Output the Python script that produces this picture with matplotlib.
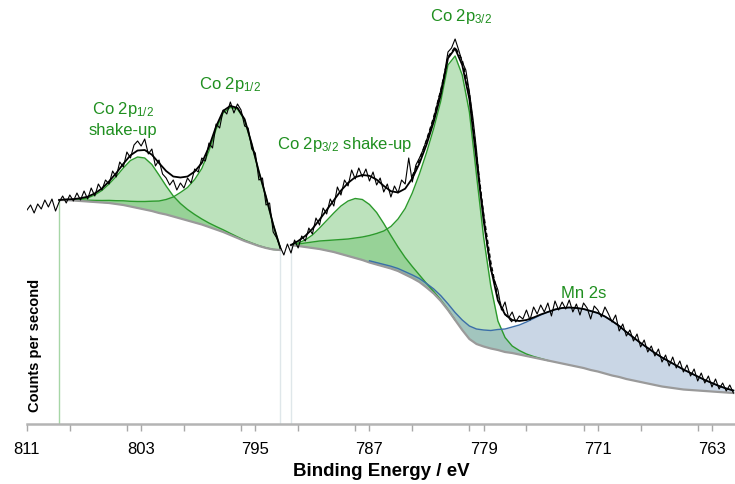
import numpy as np
import matplotlib
matplotlib.use("Agg")
import matplotlib.pyplot as plt
from matplotlib.ticker import MultipleLocator

plt.rcParams['font.family'] = ['Liberation Sans', 'DejaVu Sans']
plt.rcParams['mathtext.default'] = 'regular'

# energy grids (eV): raw spectrum, Co 2p1/2 region, Co 2p3/2 + Mn 2s region
energy_raw = np.linspace(811, 761.5, 199)
energy_r1 = np.linspace(808.75, 793.25, 32)
energy_r2 = np.linspace(792.5, 761.5, 63)

# measured counts (a.u.)
raw_cps = [
    214, 219, 211, 220, 215, 224, 217, 225, 213,
    222, 228, 221, 229, 223, 231, 224, 233, 225, 236, 228, 240, 234, 244, 240,
    253, 247, 262, 257, 272, 266, 279, 283, 278, 285, 270, 275, 258, 264, 250,
    246, 239, 244, 234, 241, 236, 246, 241, 255, 252, 266, 263, 281, 276, 300,
    296, 314, 310, 322, 311, 320, 314, 298, 296, 275, 271, 244, 246, 219, 221,
    192, 186, 177,
    169, 180,
    171, 184, 176, 188, 183, 196, 190, 206, 199, 216, 210, 225, 218, 237, 229,
    244, 238, 254, 245, 256, 247, 255, 243, 252, 239, 246, 232, 240, 227, 238,
    231, 244, 240, 266, 242, 259, 266, 274, 284, 294, 306, 320, 334, 350, 372,
    376, 385, 374, 362, 354, 332, 306, 274, 236, 210, 178, 154, 144, 134, 114,
    122, 106, 112, 102, 108, 105, 114, 104, 117, 110, 119, 112, 121, 108, 123,
    114, 122, 115, 124, 112, 120, 109, 121, 116, 105, 118, 114, 107, 117, 110,
    102, 109, 93, 100, 88, 94, 83, 90, 77, 84, 72, 78, 68, 75, 62, 69, 58, 67,
    56, 63, 52, 59, 48, 55, 43, 51, 41, 48, 37, 45, 35, 41, 33, 39, 31,
]

# Shirley backgrounds
bg1 = [224, 224, 223.5, 223, 222.5, 222, 221.5, 221, 220, 219, 217.5, 216,
       214.5, 213, 211, 209.5, 207.5, 205.5, 203.5, 201.5, 199.5, 197, 194.5,
       192, 189, 186, 183, 180.5, 178, 176, 174.5, 174]
bg2 = [179, 178, 177, 176, 175, 173.5, 172, 170, 168, 166, 164, 161.5, 159.5,
       157.5, 155.5, 153, 149.5, 146, 142, 136.5, 130.5, 123, 114, 104, 94, 85,
       80, 77.5, 75.5, 74, 72, 71, 69.5, 68, 66.5, 65, 63.5, 62, 60.5, 59, 57.5,
       56, 54, 52.5, 50.5, 48.5, 47, 45, 43.5, 42, 40.5, 39, 37.5, 36.5, 35.5,
       34.5, 34, 33.5, 33, 32.5, 32, 31.5, 31]

# fitted components (height above background)
co2p12_sat = [0, 0.3, 0.8, 1.8, 3.5, 7, 12, 19, 27.5, 37, 46, 51, 51.5, 46.5,
              38, 28.5, 20.5, 15, 11, 8, 5.5, 4, 3, 2.2, 1.6, 1.1, 0.8, 0.5,
              0.3, 0.2, 0.1, 0]
co2p12 = [0, 0.3, 0.6, 1, 1.3, 1.6, 2, 2.6, 3.3, 4.2, 5.2, 6.5, 8, 9.8, 12, 15,
          19.5, 26, 33, 43, 56, 76, 100, 119, 127.5, 129, 121, 99, 74, 51, 25, 2]
co2p32_sat = [0, 3, 7, 13, 21, 30, 39, 48, 55, 59.5, 60.5, 58, 52, 43, 33, 24,
              17, 11.5, 7, 4, 2, 1, 0.5, 0, 0, 0, 0, 0, 0, 0, 0, 0, 0, 0, 0, 0,
              0, 0, 0, 0, 0, 0, 0, 0, 0, 0, 0, 0, 0, 0, 0, 0, 0, 0, 0, 0, 0, 0,
              0, 0, 0, 0, 0]
co2p32 = [0, 2, 4, 6, 8, 10, 12, 14.5, 17, 20, 23, 27, 31, 35.5, 42, 52, 66, 85,
          108, 135, 165, 200, 245, 264, 255, 227, 169, 109, 62.5, 29, 14.5, 7,
          4, 2, 1, 0.5, 0, 0, 0, 0, 0, 0, 0, 0, 0, 0, 0, 0, 0, 0, 0, 0, 0, 0,
          0, 0, 0, 0, 0, 0, 0, 0, 0]
mn2s = [0, 0, 0.1, 0.2, 0.3, 0.5, 0.7, 0.9, 1.1, 1.3, 1.5, 1.7, 1.9, 2.1, 2.3,
        2.5, 2.8, 3.1, 3.5, 4, 4.6, 5.3, 6.2, 7.5, 10, 13, 15, 16.5, 18, 20.5,
        23, 26, 29.5, 34, 39, 44, 48.5, 52.5, 55.5, 57.5, 58.5, 59, 59, 58.5,
        57, 54.5, 51, 47, 43, 39, 35.5, 32, 29, 26, 23, 20, 17, 14, 11, 8.5, 6,
        4, 2.5]

# second envelope (dashed) around the main peak
dash_energy = [784, 783.5, 783, 782.5, 782, 781.5, 781, 780.5, 780, 779.5, 779,
               778.5, 778, 777.5, 777]
dash_cps = [248, 264, 284, 307, 334, 367, 377, 364, 331, 269, 210, 162, 126,
            110, 102]

labels = ["Co 2p$_{1/2}$\nshake-up", "Co 2p$_{1/2}$", "Co 2p$_{3/2}$ shake-up",
          "Co 2p$_{3/2}$", "Mn 2s"]
label_pos = [(804.3, 305), (796.8, 339), (788.7, 279), (780.6, 407), (772.0, 131)]

bg1 = np.array(bg1)
bg2 = np.array(bg2)
env1 = bg1 + np.array(co2p12_sat) + np.array(co2p12)
env2 = bg2 + np.array(co2p32_sat) + np.array(co2p32) + np.array(mn2s)

green_fill = '#6cbf6c'
green_line = '#2c9a2c'
blue_fill = '#7f9fc2'
blue_line = '#3b6ea8'
text_green = '#1f8f1f'

fig = plt.figure(figsize=(7.35, 4.84), dpi=100)
ax = fig.add_axes([27 / 735, 60 / 484, 708 / 735, 424 / 484])

# region markers
ax.vlines(energy_r1[0], 0, bg1[0], color='#a6d6a6', lw=1)
ax.vlines([energy_r1[-1], energy_r2[0]], 0, [bg1[-1], bg2[0]], color='#dfe7ea', lw=1)

# component fills
for comp in (co2p12_sat, co2p12):
    ax.fill_between(energy_r1, bg1, bg1 + np.array(comp), color=green_fill,
                    alpha=0.45, lw=0)
for comp in (co2p32_sat, co2p32):
    ax.fill_between(energy_r2, bg2, bg2 + np.array(comp), color=green_fill,
                    alpha=0.45, lw=0)
ax.fill_between(energy_r2, bg2, bg2 + np.array(mn2s), color=blue_fill,
                alpha=0.42, lw=0)

# component outlines (only where the peak rises above the background)
for comp in (co2p12_sat, co2p12):
    ax.plot(energy_r1, bg1 + np.array(comp), color=green_line, lw=1)
ax.plot(energy_r2[:24], (bg2 + np.array(co2p32_sat))[:24], color=green_line, lw=1)
ax.plot(energy_r2[:37], (bg2 + np.array(co2p32))[:37], color=green_line, lw=1)

# backgrounds
ax.plot(energy_r1, bg1, color='#9a9a9a', lw=1.6)
ax.plot(energy_r2, bg2, color='#9a9a9a', lw=1.6)
ax.plot(energy_r2[11:], (bg2 + np.array(mn2s))[11:], color=blue_line, lw=1)

# envelopes and raw data
ax.plot(dash_energy, dash_cps, color='black', lw=1, ls=(0, (3, 2)))
ax.plot(energy_r1, env1, color='black', lw=1.3)
ax.plot(energy_r2, env2, color='black', lw=1.3)
ax.plot(energy_raw, raw_cps, color='black', lw=0.8)

for txt, (x, y) in zip(labels, label_pos):
    ax.text(x, y, txt, color=text_green, fontsize=12, ha='center', va='center',
            multialignment='center', linespacing=1.3)

ax.set_xlim(811, 811 - 708 / 14.27)
ax.set_ylim(0, 424)
ax.set_xticks(np.arange(811, 760, -8))
ax.xaxis.set_minor_locator(MultipleLocator(4))
ax.tick_params(axis='x', which='both', direction='out', length=5,
               color='#a8a8a8', width=1, labelsize=12, pad=8)
ax.set_yticks([])
for side in ('top', 'right', 'left'):
    ax.spines[side].set_visible(False)
ax.spines['bottom'].set_color('#b4b4b4')
ax.spines['bottom'].set_linewidth(1.8)
ax.set_xlabel("Binding Energy / eV", fontsize=13.5, fontweight='bold', labelpad=4)
fig.text(35 / 735, 1 - 345 / 484, "Counts per second", rotation=90,
         fontsize=10.5, fontweight='bold', ha='center', va='center')

fig.savefig("out.png", dpi=100)
